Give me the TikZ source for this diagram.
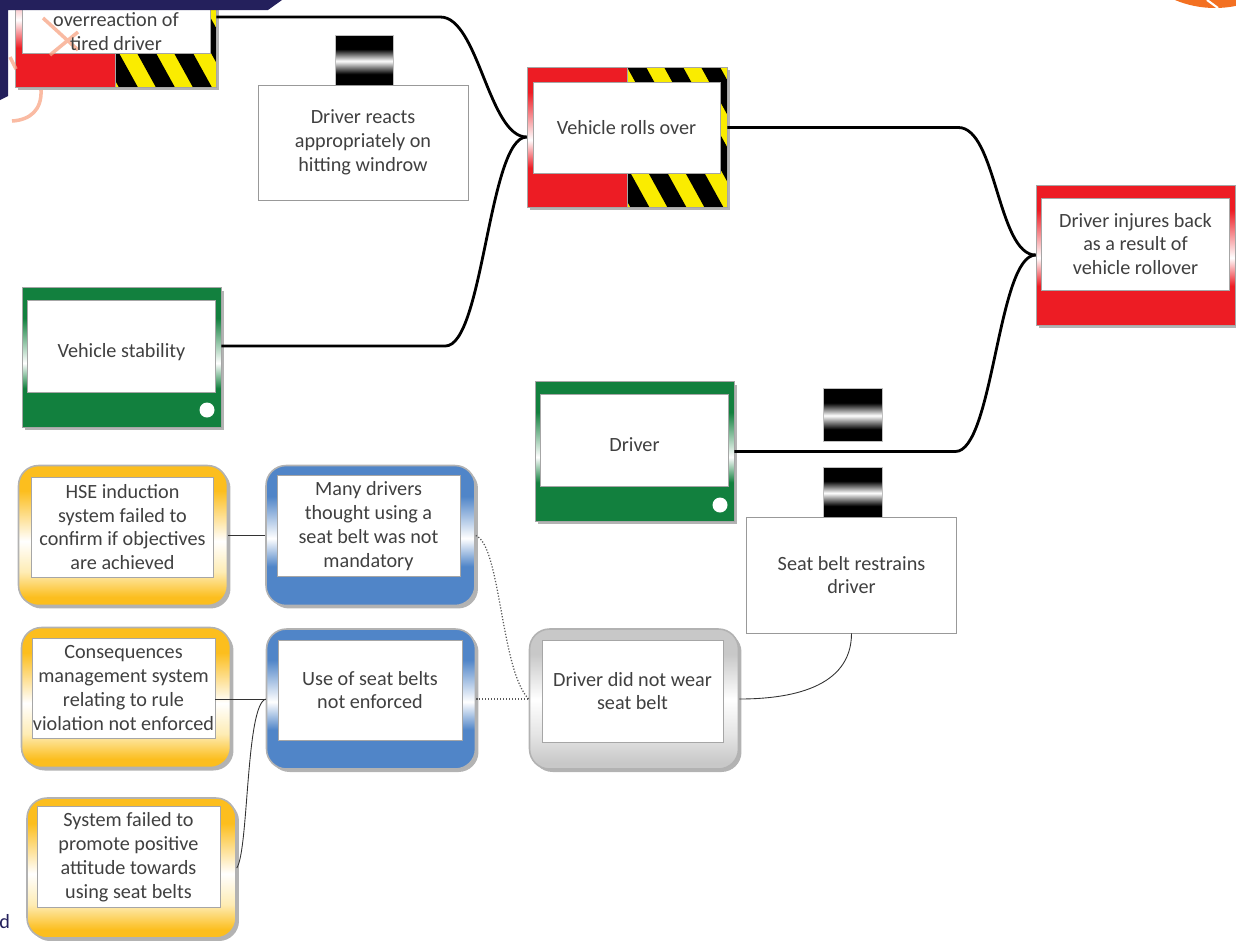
\documentclass[tikz,border=0pt]{standalone}
\usepackage{fontspec}
\setmainfont{Carlito}
\usetikzlibrary{shadows}
\definecolor{hzred}{RGB}{237,28,36}
\definecolor{hzyellow}{RGB}{250,236,0}
\definecolor{bgreen}{RGB}{18,128,62}
\definecolor{bblue}{RGB}{80,133,200}
\definecolor{bgold}{RGB}{252,190,30}
\definecolor{lightgold}{RGB}{254,236,180}
\definecolor{greyA}{RGB}{200,200,200}
\definecolor{greyB}{RGB}{230,230,230}
\definecolor{navy}{RGB}{36,32,92}
\definecolor{salmon}{RGB}{248,164,132}
\definecolor{logoorange}{RGB}{243,112,33}
\definecolor{txt}{RGB}{64,64,64}
\pgfdeclareverticalshading{redband}{100bp}{color(0bp)=(hzred); color(39bp)=(hzred); color(49bp)=(white); color(66bp)=(hzred); color(100bp)=(hzred)}
\pgfdeclareverticalshading{greenband}{100bp}{color(0bp)=(bgreen); color(39bp)=(bgreen); color(48bp)=(white); color(64bp)=(bgreen); color(100bp)=(bgreen)}
\pgfdeclareverticalshading{blueband}{100bp}{color(0bp)=(bblue); color(39bp)=(bblue); color(49bp)=(white); color(64bp)=(bblue); color(100bp)=(bblue)}
\pgfdeclareverticalshading{goldband}{100bp}{color(0bp)=(bgold); color(28bp)=(bgold); color(37bp)=(lightgold); color(48bp)=(white); color(66bp)=(bgold); color(100bp)=(bgold)}
\pgfdeclareverticalshading{greyband}{100bp}{color(0bp)=(greyA); color(27bp)=(greyA); color(38bp)=(greyB); color(50bp)=(white); color(66bp)=(greyA); color(100bp)=(greyA)}
\pgfdeclareverticalshading{barband}{100bp}{color(0bp)=(black); color(36bp)=(black); color(49bp)=(white); color(61bp)=(black); color(100bp)=(black)}
\begin{document}
\begin{tikzpicture}[x=0.02cm, y=-0.02cm,
  every node/.style={font=\fontsize{11.5}{13.6}\selectfont, text=txt},
  card/.style={draw=gray!70, shade, shading=#1, minimum width=4cm, minimum height=2.8cm,
    drop shadow={shadow xshift=0.06cm, shadow yshift=-0.06cm, fill=gray, opacity=0.6}},
  hazard/.style={draw=gray!70, fill=hzyellow, minimum width=2cm, minimum height=2.8cm,
    path picture={\foreach \k in {-3,...,3}
      \fill[black] ([xshift=\k*0.74cm]path picture bounding box.north west) -- ++(0.38cm,0pt)
        -- ++(1.6cm,-2.9cm) -- ++(-0.38cm,0pt) -- cycle;}},
  textbox/.style={draw=gray!70, fill=white, minimum width=3.76cm, minimum height=1.84cm, align=center},
  lowtext/.style={text height=13pt, text depth=0pt},
  pill/.style={card=#1, rounded corners=0.4cm, draw=gray!60, line width=0.9pt, minimum width=4.18cm},
  cause/.style={draw=gray!70, fill=white, minimum width=3.64cm, minimum height=2cm, align=center, inner xsep=0.5pt},
  block/.style={draw=gray!50, shade, shading=barband, minimum width=1.16cm, minimum height=1cm},
  barrier/.style={draw=gray!80, fill=white, minimum width=4.2cm, minimum height=2.3cm, align=center},
  bowline/.style={line width=1.6pt},
  link/.style={line width=0.5pt, black!80},
  dotlink/.style={line width=0.7pt, black!65, densely dotted},
  dot/.style={circle, fill=white, minimum size=0.3cm, inner sep=0pt}]
\useasboundingbox (0,0) rectangle (1236,940);
\fill[logoorange] (1215,-96) circle (104);
\draw[white, line width=1.2pt] (1207,0) -- (1218,8);

\node[card=redband, minimum width=4.02cm] (tiredbg) at (115.5,17) {};
\node[hazard, minimum width=2.02cm] (tiredhz) at (166,17) {};
\node[textbox] (tiredin) at (116,7) {};
\draw[salmon, line width=2pt, opacity=0.75] (43,18) -- (78,50) (78,32) -- (50,55) (10,57) -- (16,69);
\draw[salmon, line width=2pt, opacity=0.75] (41,90) .. controls (42,110) and (30,120) .. (12,121);
\node[align=center] (tired) at (116,32) {overreaction of\\tired driver};
\fill[navy] (0,0) -- (282,0) -- (268,10) -- (8,10) -- (8,96) -- (0,100) -- cycle;

\node[block] (windbar) at (364.5,60) {};
\node[barrier] (wind) at (363,142.5) {Driver reacts\\appropriately on\\hitting windrow};

\node[card=redband] (rollbg) at (627,137) {};
\node[hazard] (rollhz) at (677,137) {};
\node[textbox, minimum width=3.74cm, minimum height=1.82cm] (roll) at (626.5,127.5) {Vehicle rolls over};

\node[card=redband, minimum width=3.98cm] (injbg) at (1135.5,255) {};
\node[textbox] (inj) at (1135.5,244) {Driver injures back\\as a result of\\vehicle rollover};

\node[card=greenband, minimum width=3.98cm] (stabbg) at (121.5,357.5) {};
\node[textbox, lowtext] (stab) at (121.5,346) {Vehicle stability};
\node[dot] (stabdot) at (207,410) {};

\node[card=greenband, minimum width=3.98cm] (drvbg) at (634.5,451.5) {};
\node[textbox, lowtext] (drv) at (634.5,440.5) {Driver};
\node[dot] (drvdot) at (720,505) {};

\node[block, minimum width=1.18cm, minimum height=1.06cm] (beltbar1) at (852.5,414.5) {};
\node[block, minimum width=1.18cm] (beltbar2) at (852.5,492) {};
\node[barrier, minimum height=2.32cm] (belt) at (851.5,575) {Seat belt restrains\\driver};

\node[pill=goldband] (hsebg) at (123,535.5) {};
\node[cause] (hse) at (122.5,527) {HSE induction\\system failed to\\confirm if objectives\\are achieved};
\node[pill=blueband] (manybg) at (370.5,535.5) {};
\node[cause, minimum width=3.66cm] (many) at (368.5,526) {Many drivers\\thought using a\\seat belt was not\\mandatory};
\node[pill=goldband] (consbg) at (126,697.5) {};
\node[cause, minimum width=3.66cm] (cons) at (123.5,688) {Consequences\\management system\\relating to rule\\violation not enforced};
\node[pill=goldband] (sysbg) at (131.5,868) {};
\node[cause, minimum width=3.66cm] (sys) at (128.5,857) {System failed to\\promote positive\\attitude towards\\using seat belts};
\node[pill=blueband] (usebg) at (371,699) {};
\node[cause, minimum width=3.68cm] (use) at (370,690) {Use of seat belts\\not enforced};
\node[pill=greyband] (nowearbg) at (634,699) {};
\node[cause, minimum width=3.62cm, minimum height=2.04cm] (nowear) at (632.5,691) {Driver did not wear\\seat belt};

\node[text=navy, anchor=west, inner sep=0pt] (navyd) at (-1,922) {d};

\draw[bowline] (tiredbg.east) -- ++(224,0) .. controls +(38,0) and +(-38,0) .. (rollbg.west);
\draw[bowline] (stab.east -| stabbg.east) -- ++(224,0) .. controls +(38,0) and +(-38,0) .. (rollbg.west);
\draw[bowline] (roll.east -| rollbg.east) -- ++(231,0) .. controls +(38,0) and +(-38,0) .. (injbg.west);
\draw[bowline] (drvbg.east) -- ++(221,0) .. controls +(38,0) and +(-38,0) .. (injbg.west);
\draw[link] (hsebg.east) -- (manybg.west);
\draw[link] (usebg.west -| cons.east) -- (usebg.west);
\draw[link] (sysbg.east) .. controls +(12,-18) and +(-20,6) .. (usebg.west);
\draw[link] (belt.south) .. controls +(0,55) and +(50,0) .. (nowearbg.east);
\draw[dotlink] (usebg.east) -- (nowearbg.west);
\draw[dotlink] (manybg.east) .. controls +(25,10) and +(-28,-28) .. (nowearbg.west);
\end{tikzpicture}
\end{document}
